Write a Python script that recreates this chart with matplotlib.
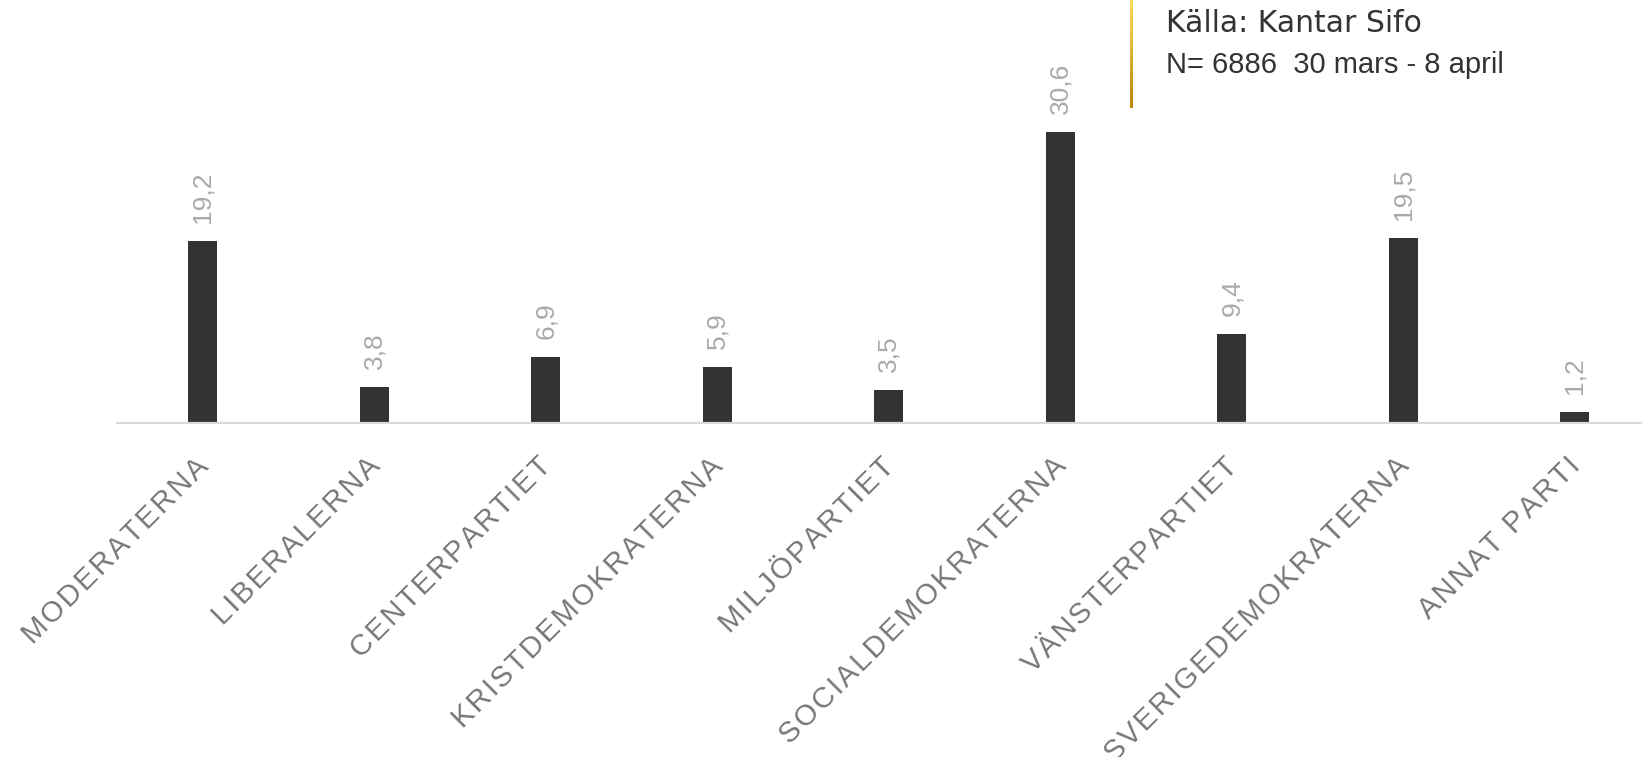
import matplotlib.pyplot as plt
import matplotlib.transforms as mtransforms
from matplotlib.colors import LinearSegmentedColormap
import numpy as np

partier = ['MODERATERNA', 'LIBERALERNA', 'CENTERPARTIET', 'KRISTDEMOKRATERNA',
           'MILJÖPARTIET', 'SOCIALDEMOKRATERNA', 'VÄNSTERPARTIET',
           'SVERIGEDEMOKRATERNA', 'ANNAT PARTI']
andel = [19.2, 3.8, 6.9, 5.9, 3.5, 30.6, 9.4, 19.5, 1.2]
kalla = 'Källa: Kantar Sifo'
urval = 'N= 6886  30 mars - 8 april'

plt.rcParams['font.family'] = ['Liberation Sans', 'DejaVu Sans']

fig = plt.figure(figsize=(16.42, 7.57), dpi=100)
ax = fig.add_axes([117 / 1642, 1 - 423 / 757, 9 * 171.5 / 1642, 35 * 9.5 / 757])

x = np.arange(len(partier))
ax.bar(x, andel, width=0.17, color='#333333', zorder=2)
ax.set_xlim(-0.5, len(partier) - 0.5)
ax.set_ylim(0, 35)

for xi, v in zip(x, andel):
    ax.annotate(f'{v:.1f}'.replace('.', ','), (xi, v), xytext=(0, 13),
                textcoords='offset points', rotation=90, ha='center', va='bottom',
                fontsize=19, color='#a9a9a9')

for s in ['top', 'right', 'left']:
    ax.spines[s].set_visible(False)
ax.spines['bottom'].set_color('#d9d9d9')
ax.spines['bottom'].set_linewidth(1.6)
ax.set_yticks([])
ax.set_xticks(x)
# a little letter spacing, like the original
spaced = ['\u200a'.join(p) for p in partier]
ax.set_xticklabels(spaced, rotation=45, ha='right', va='top',
                   rotation_mode='anchor', fontsize=21, color='#777777')
ax.tick_params(axis='x', length=0, pad=21)
shift = mtransforms.ScaledTranslation(-0.085, 0, fig.dpi_scale_trans)
for lab in ax.get_xticklabels():
    lab.set_transform(lab.get_transform() + shift)

# gold accent line next to the source note
grad = np.linspace(0, 1, 100).reshape(-1, 1)
gold = LinearSegmentedColormap.from_list('gold', ['#f7dc5c', '#b8860b'])
lax = fig.add_axes([1130 / 1642, 1 - 108 / 757, 3 / 1642, 108 / 757])
lax.imshow(grad, aspect='auto', cmap=gold)
lax.axis('off')

fig.text(1166 / 1642, 1 - 32 / 757, kalla, fontsize=21.5, color='#333333',
         family='DejaVu Sans', va='baseline')
fig.text(1166 / 1642, 1 - 73 / 757, urval, fontsize=21, color='#333333',
         va='baseline')

fig.savefig('out.png', dpi=100)
